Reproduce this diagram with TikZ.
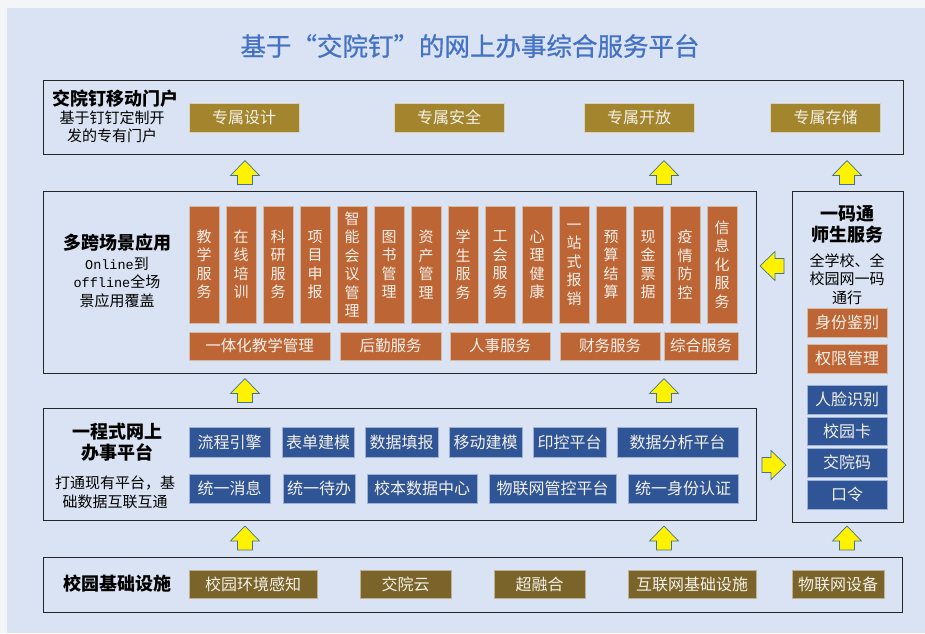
\documentclass[tikz,border=0pt]{standalone}
\usepackage{fontspec}
\setmainfont{Noto Sans CJK SC}
\newfontfamily\monof{Liberation Mono}
\newfontfamily\titlef{Noto Sans CJK SC}[FakeBold=0.8]
\usetikzlibrary{calc}
\definecolor{bgc}{HTML}{DAE3F3}
\definecolor{outc}{HTML}{F3F5F6}
\definecolor{titlec}{HTML}{4472C4}
\definecolor{framec}{HTML}{262626}
\definecolor{goldc}{HTML}{A2852C}
\definecolor{orangec}{HTML}{BE6535}
\definecolor{bluec}{HTML}{2F5597}
\definecolor{olivec}{HTML}{7B6429}
\definecolor{edgec}{HTML}{D9D2C0}
\definecolor{blueedge}{HTML}{9DB1D6}
\definecolor{arrowedge}{HTML}{41719C}
\definecolor{boxtext}{HTML}{F4F1EA}
\newcommand\fs[2]{\fontsize{#1}{#2}\selectfont}
\begin{document}
\begin{tikzpicture}[x=1pt,y=-1pt,
  bigbox/.style={draw=framec, line width=1.3pt, anchor=north west, inner sep=0pt},
  cbox/.style={inner sep=0pt, text=boxtext, line width=0.6pt, align=center},
  goldbox/.style={cbox, fill=goldc, draw=edgec, font=\fs{16}{16}, minimum width=110pt, minimum height=29pt},
  vbox/.style={cbox, fill=orangec, draw=edgec!80!orangec, font=\fs{15}{18.5}, minimum width=30pt, minimum height=117pt},
  obox/.style={cbox, fill=orangec, draw=edgec!80!orangec, font=\fs{15.5}{16}, minimum height=28pt},
  bbox/.style={cbox, fill=bluec, draw=blueedge, font=\fs{16}{16}, minimum height=30pt},
  rbox/.style={cbox, fill=bluec, draw=blueedge, font=\fs{16}{16}, minimum width=80pt, minimum height=29pt},
  robox/.style={cbox, fill=orangec, draw=edgec!80!orangec, font=\fs{16}{16}, minimum width=80pt, minimum height=29pt},
  livebox/.style={cbox, fill=olivec, draw=edgec!70!olivec, font=\fs{16}{16}, minimum height=28pt},
  head/.style={font=\bfseries\fs{18}{21}, align=center, inner sep=0pt},
  body/.style={font=\fs{15}{18.5}, align=center, inner sep=0pt},
  arrowst/.style={fill=yellow, draw=arrowedge, line width=0.7pt, line join=miter},
  uparr/.pic={\draw[arrowst] (0,-12) -- (14.5,3) -- (7.5,3) -- (7.5,12) -- (-7.5,12) -- (-7.5,3) -- (-14.5,3) -- cycle;}
]
\useasboundingbox (0,0) rectangle (925,633);
\fill[outc] (0,0) rectangle (925,633);
\fill[bgc] (7,8) rectangle (925,633);

% title
\node[text=titlec, font=\titlef\fs{25.5}{27}, inner sep=0pt] (title) at (470,46) {基于“交院钉”的网上办事综合服务平台};

% big frames
\node[bigbox, minimum width=860pt, minimum height=74pt] (top) at (43,80) {};
\node[bigbox, minimum width=713pt, minimum height=182pt] (mid) at (43,191) {};
\node[bigbox, minimum width=713pt, minimum height=112pt] (onep) at (43,408) {};
\node[bigbox, minimum width=111pt, minimum height=331pt] (right) at (792,191) {};
\node[bigbox, minimum width=859pt, minimum height=55pt] (base) at (43,557) {};

% top row
\node[head] (toph) at (115,99) {交院钉移动门户};
\node[body] (topb) at (112,127) {基于钉钉定制开\\发的专有门户};
\node[goldbox] (g1) at (244,117.5) {专属设计};
\node[goldbox] (g2) at (449,117.5) {专属安全};
\node[goldbox] (g3) at (639,117.5) {专属开放};
\node[goldbox] (g4) at (825.5,117.5) {专属存储};

% middle
\node[head] (midh) at (117,243) {多跨场景应用};
\node[body] (midb) at (117,282) {{\monof\fs{13.5}{18.5}Online}到\\{\monof\fs{13.5}{18.5}offline}全场\\景应用覆盖};
\foreach \t [count=\i from 0] in {教\\学\\服\\务, 在\\线\\培\\训, 科\\研\\服\\务, 项\\目\\申\\报, 智\\能\\会\\议\\管\\理, 图\\书\\管\\理, 资\\产\\管\\理, 学\\生\\服\\务, 工\\会\\服\\务, 心\\理\\健\\康, 一\\站\\式\\报\\销, 预\\算\\结\\算, 现\\金\\票\\据, 疫\\情\\防\\控, 信\\息\\化\\服\\务}
  \node[vbox] (v\i) at (204+37*\i,264.5) {\t};
\node[obox, minimum width=141pt] (o1) at (259.5,346) {一体化教学管理};
\node[obox, minimum width=101pt] (o2) at (390.5,346) {后勤服务};
\node[obox, minimum width=100pt] (o3) at (500,346) {人事服务};
\node[obox, minimum width=100pt] (o4) at (610,346) {财务服务};
\node[obox, minimum width=74pt] (o5) at (701,346) {综合服务};

% one-stop platform
\node[head] (oneh) at (117,442.5) {一程式网上\\办事平台};
\node[body] (oneb) at (115,492.5) {打通现有平台，基\\础数据互联互通};
\node[bbox, minimum width=81pt] (b1) at (229.5,442) {流程引擎};
\node[bbox, minimum width=72pt] (b2) at (318,442) {表单建模};
\node[bbox, minimum width=73pt] (b3) at (401.5,442) {数据填报};
\node[bbox, minimum width=73pt] (b4) at (485.5,442) {移动建模};
\node[bbox, minimum width=73pt] (b5) at (569.5,442) {印控平台};
\node[bbox, minimum width=121pt] (b6) at (677.5,442) {数据分析平台};
\node[bbox, minimum width=81pt, minimum height=29pt] (c1) at (229.5,488.5) {统一消息};
\node[bbox, minimum width=72pt, minimum height=29pt] (c2) at (319,488.5) {统一待办};
\node[bbox, minimum width=110pt, minimum height=29pt] (c3) at (422,488.5) {校本数据中心};
\node[bbox, minimum width=127pt, minimum height=29pt] (c4) at (552.5,488.5) {物联网管控平台};
\node[bbox, minimum width=110pt, minimum height=29pt] (c5) at (683,488.5) {统一身份认证};

% right column
\node[head] (rh) at (847,224.5) {一码通\\师生服务};
\node[body] (rb) at (847,279) {全学校、全\\校园网一码\\通行};
\node[robox] (r1) at (847,322.5) {身份鉴别};
\node[robox] (r2) at (847,358.5) {权限管理};
\node[rbox] (r3) at (847,399.5) {人脸识别};
\node[rbox, minimum height=28pt] (r4) at (847,431) {校园卡};
\node[rbox] (r5) at (847,462.5) {交院码};
\node[rbox] (r6) at (847,494.5) {口令};

% base
\node[head] (baseh) at (117,584) {校园基础设施};
\node[livebox, minimum width=128pt] (l1) at (253,584) {校园环境感知};
\node[livebox, minimum width=91pt] (l2) at (405.5,584) {交院云};
\node[livebox, minimum width=91pt] (l3) at (539.5,584) {超融合};
\node[livebox, minimum width=128pt] (l4) at (692,584) {互联网基础设施};
\node[livebox, minimum width=92pt] (l5) at (838,584) {物联网设备};

% block arrows
\path (245,172.5) pic {uparr};
\path (664,172.5) pic {uparr};
\path (847,172.5) pic {uparr};
\path (245,390.5) pic {uparr};
\path (664,390.5) pic {uparr};
\path (245,538) pic {uparr};
\path (664,538) pic {uparr};
\path (847,538) pic {uparr};
\path (772,266) pic[rotate=90] {uparr};
\path (774,465) pic[rotate=-90] {uparr};
\end{tikzpicture}
\end{document}
